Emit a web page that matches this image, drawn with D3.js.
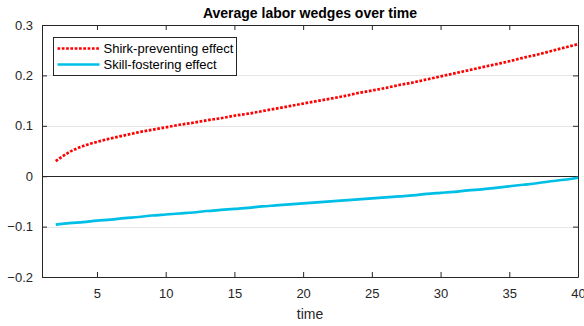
<!DOCTYPE html>
<html>
<head>
<meta charset="utf-8">
<script src="https://cdn.jsdelivr.net/npm/d3@7"></script>
<style>
  html, body { margin: 0; padding: 0; background: #fff; }
  svg { display: block; font-family: "Liberation Sans", Arial, sans-serif; }
</style>
</head>
<body>
<svg id="chart" width="584" height="326"></svg>
<script>
// Time periods and the two average wedge series
const time = d3.range(2, 41);
const shirkPreventing = [
  0.030, 0.048, 0.060, 0.068, 0.075, 0.081, 0.087, 0.092, 0.097, 0.102,
  0.106, 0.111, 0.115, 0.120, 0.124, 0.129, 0.134, 0.139, 0.144, 0.149,
  0.154, 0.159, 0.165, 0.170, 0.175, 0.181, 0.186, 0.192, 0.198, 0.204,
  0.210, 0.216, 0.222, 0.228, 0.235, 0.241, 0.248, 0.255, 0.262
];
const skillFostering = [
  -0.096, -0.093, -0.091, -0.088, -0.086, -0.083, -0.081, -0.078, -0.076, -0.074,
  -0.072, -0.069, -0.067, -0.065, -0.063, -0.060, -0.058, -0.056, -0.054, -0.052,
  -0.050, -0.048, -0.046, -0.044, -0.042, -0.040, -0.038, -0.035, -0.033, -0.031,
  -0.028, -0.026, -0.023, -0.020, -0.017, -0.014, -0.010, -0.007, -0.003
];
const xTicks = [5, 10, 15, 20, 25, 30, 35, 40];
const yTicks = [-0.2, -0.1, 0, 0.1, 0.2, 0.3];
const seriesNames = ["Shirk-preventing effect", "Skill-fostering effect"];

const svg = d3.select("#chart");
const margin = { left: 42, right: 6, top: 25, bottom: 49 };
const W = 584, H = 326;
const x0 = margin.left, x1 = W - margin.right, y0 = margin.top, y1 = H - margin.bottom;

const x = d3.scaleLinear().domain([1, 40]).range([x0, x1]);
const y = d3.scaleLinear().domain([-0.2, 0.3]).range([y1, y0]);
const axisColor = "#262626";

// Horizontal grid
svg.append("g").selectAll("line").data(yTicks).join("line")
  .attr("x1", x0).attr("x2", x1)
  .attr("y1", d => Math.round(y(d)) + 0.5).attr("y2", d => Math.round(y(d)) + 0.5)
  .attr("stroke", "#e6e6e6").attr("stroke-width", 1);

// Zero reference line
svg.append("line")
  .attr("x1", x0).attr("x2", x1)
  .attr("y1", Math.round(y(0)) + 0.5).attr("y2", Math.round(y(0)) + 0.5)
  .attr("stroke", axisColor).attr("stroke-width", 1);

// Axes with inward ticks on all four sides
function styleAxis(g) {
  g.select(".domain").attr("stroke", axisColor);
  g.selectAll(".tick line").attr("stroke", axisColor);
  g.selectAll(".tick text").attr("fill", axisColor).attr("font-size", "13px");
}
svg.append("g").attr("transform", `translate(0,${y1})`)
  .call(d3.axisBottom(x).tickValues(xTicks).tickSizeInner(-5).tickSizeOuter(0).tickPadding(12).tickFormat(d3.format("d")))
  .call(styleAxis);
svg.append("g").attr("transform", `translate(0,${y0})`)
  .call(d3.axisTop(x).tickValues(xTicks).tickSizeInner(-5).tickSizeOuter(0).tickFormat(""))
  .call(styleAxis);
svg.append("g").attr("transform", `translate(${x0},0)`)
  .call(d3.axisLeft(y).tickValues(yTicks).tickSizeInner(-5).tickSizeOuter(0).tickPadding(9).tickFormat(d => d === 0 ? "0" : d3.format(".1f")(d)))
  .call(styleAxis);
svg.append("g").attr("transform", `translate(${x1},0)`)
  .call(d3.axisRight(y).tickValues(yTicks).tickSizeInner(-5).tickSizeOuter(0).tickFormat(""))
  .call(styleAxis);

// Series lines
const line = d3.line().curve(d3.curveMonotoneX).x(d => x(d[0])).y(d => y(d[1]));
svg.append("path")
  .datum(time.map((t, i) => [t, skillFostering[i]]))
  .attr("d", line).attr("fill", "none")
  .attr("stroke", "#00bfe6").attr("stroke-width", 2.7);
svg.append("path")
  .datum(time.map((t, i) => [t, shirkPreventing[i]]))
  .attr("d", line).attr("fill", "none")
  .attr("stroke", "#ff0000").attr("stroke-width", 2.7)
  .attr("stroke-dasharray", "2.7,1.6");

// Title and x-axis label
svg.append("text")
  .attr("x", (x0 + x1) / 2).attr("y", 18)
  .attr("text-anchor", "middle").attr("font-weight", "bold")
  .attr("font-size", "14px").attr("fill", "#000")
  .text("Average labor wedges over time");
svg.append("text")
  .attr("x", (x0 + x1) / 2).attr("y", 319)
  .attr("text-anchor", "middle").attr("font-size", "14px").attr("fill", axisColor)
  .text("time");

// Legend
const lg = svg.append("g").attr("transform", "translate(53.5,37.5)");
lg.append("rect").attr("width", 183).attr("height", 38)
  .attr("fill", "#fff").attr("stroke", axisColor).attr("stroke-width", 1);
const legendStyles = [
  { color: "#ff0000", dash: "2.7,1.6" },
  { color: "#00bfe6", dash: null }
];
seriesNames.forEach((name, i) => {
  const yy = 11 + i * 16;
  lg.append("line").attr("x1", 4).attr("x2", 46).attr("y1", yy).attr("y2", yy)
    .attr("stroke", legendStyles[i].color).attr("stroke-width", 2.7)
    .attr("stroke-dasharray", legendStyles[i].dash);
  lg.append("text").attr("x", 50).attr("y", yy).attr("dy", "0.35em")
    .attr("font-size", "13px").attr("fill", "#000").text(name);
});
</script>
</body>
</html>
